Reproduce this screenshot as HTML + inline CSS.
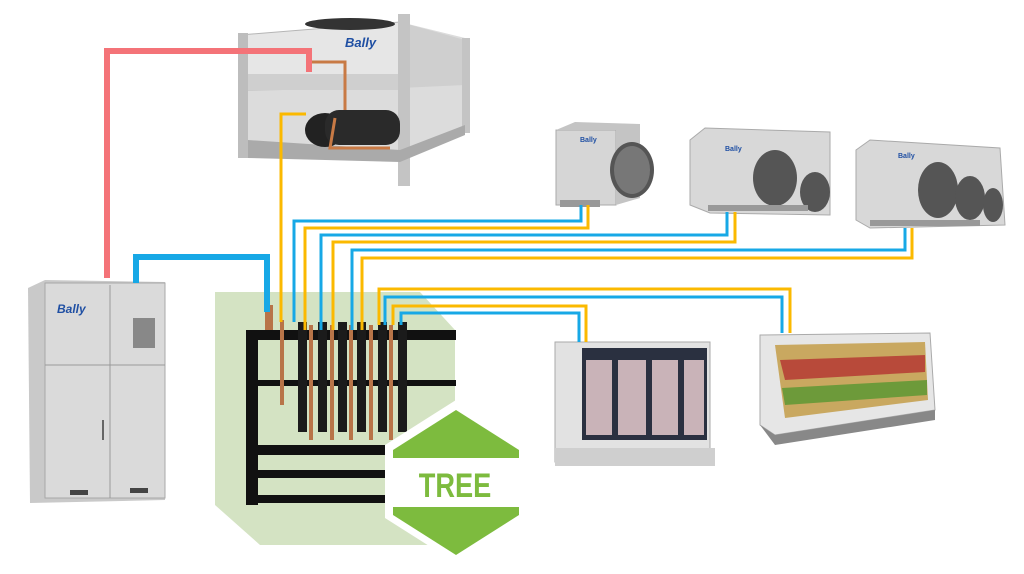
<!DOCTYPE html>
<html><head><meta charset="utf-8"><style>
html,body{margin:0;padding:0;background:#fff;}
body{width:1024px;height:569px;overflow:hidden;position:relative;font-family:"Liberation Sans",sans-serif;}
</style></head><body>
<svg width="1024" height="569" viewBox="0 0 1024 569" xmlns="http://www.w3.org/2000/svg">
<polygon points="215,292 420,292 455,330 455,545 260,545 215,505" fill="#d4e3c3"/>

<!-- condenser -->
<g>
<polygon points="240,35 400,22 465,38 465,130 400,150 240,155" fill="#dcdcdc"/>
<polygon points="240,35 400,22 400,88 240,90" fill="#e6e6e6" stroke="#b5b5b5"/>
<polygon points="400,22 465,40 465,85 400,88" fill="#cfcfcf"/>
<rect x="240" y="74" width="160" height="16" fill="#cfcfcf"/>
<rect x="238" y="33" width="10" height="125" fill="#bdbdbd"/>
<rect x="398" y="14" width="12" height="172" fill="#c4c4c4"/>
<rect x="462" y="38" width="8" height="95" fill="#c4c4c4"/>
<polygon points="248,140 400,150 465,125 465,135 400,162 248,158" fill="#aaa"/>
<ellipse cx="350" cy="24" rx="45" ry="6" fill="#333"/>
<ellipse cx="325" cy="130" rx="20" ry="17" fill="#222"/>
<rect x="325" y="110" width="75" height="35" rx="14" fill="#2a2a2a"/>
<path d="M310,62 H345 V110 M335,118 L330,148 H390" stroke="#c87a45" stroke-width="3" fill="none"/>
<text x="345" y="47" font-size="13" font-weight="bold" fill="#1f4fa3" font-style="italic">Bally</text>
</g>

<!-- cabinet -->
<g>
<polygon points="28,288 45,280 165,282 165,500 30,503" fill="#c9c9c9"/>
<rect x="45" y="283" width="120" height="215" fill="#dadada" stroke="#a8a8a8"/>
<line x1="110" y1="285" x2="110" y2="498" stroke="#999"/>
<line x1="45" y1="365" x2="165" y2="365" stroke="#999"/>
<rect x="133" y="318" width="22" height="30" fill="#888"/>
<rect x="70" y="490" width="18" height="5" fill="#444"/>
<rect x="130" y="488" width="18" height="5" fill="#444"/>
<line x1="103" y1="420" x2="103" y2="440" stroke="#666" stroke-width="2"/>
<text x="57" y="313" font-size="12" font-weight="bold" fill="#1f4fa3" font-style="italic">Bally</text>
</g>

<!-- evaporators -->
<g>
<rect x="556" y="130" width="60" height="75" fill="#d6d6d6" stroke="#aaa"/>
<polygon points="556,130 575,122 640,124 640,198 616,205 616,130" fill="#c4c4c4"/>
<ellipse cx="632" cy="170" rx="22" ry="28" fill="#555"/>
<ellipse cx="632" cy="170" rx="18" ry="24" fill="#777"/>
<rect x="560" y="200" width="40" height="7" fill="#999"/>
<text x="580" y="142" font-size="7" font-weight="bold" fill="#1f4fa3">Bally</text>
</g>
<g>
<polygon points="690,140 705,128 830,132 830,215 710,213 690,205" fill="#d8d8d8" stroke="#aaa"/>
<ellipse cx="775" cy="178" rx="22" ry="28" fill="#555"/>
<ellipse cx="815" cy="192" rx="15" ry="20" fill="#555"/>
<rect x="708" y="205" width="100" height="6" fill="#999"/>
<text x="725" y="151" font-size="7" font-weight="bold" fill="#1f4fa3">Bally</text>
</g>
<g>
<polygon points="856,150 870,140 1000,148 1005,225 870,228 856,220" fill="#d8d8d8" stroke="#aaa"/>
<ellipse cx="938" cy="190" rx="20" ry="28" fill="#555"/>
<ellipse cx="970" cy="198" rx="15" ry="22" fill="#555"/>
<ellipse cx="993" cy="205" rx="10" ry="17" fill="#555"/>
<rect x="870" y="220" width="110" height="6" fill="#999"/>
<text x="898" y="158" font-size="7" font-weight="bold" fill="#1f4fa3">Bally</text>
</g>

<!-- freezer display -->
<g>
<rect x="555" y="342" width="155" height="120" fill="#e2e2e2" stroke="#aaa"/>
<rect x="582" y="348" width="125" height="92" fill="#2a3040"/>
<g fill="#c9b3b8">
<rect x="586" y="360" width="26" height="75"/><rect x="618" y="360" width="28" height="75"/><rect x="652" y="360" width="26" height="75"/><rect x="684" y="360" width="20" height="75"/>
</g>
<rect x="555" y="448" width="160" height="18" fill="#cfcfcf"/>
</g>

<!-- deli case -->
<g>
<polygon points="760,335 930,333 935,410 775,435 760,425" fill="#e6e6e6" stroke="#aaa"/>
<polygon points="775,345 925,342 928,400 785,418" fill="#c9a860"/>
<polygon points="780,360 925,355 925,372 785,380" fill="#b84a3a"/>
<polygon points="782,388 927,380 927,395 785,405" fill="#6d9a3a"/>
<polygon points="760,425 775,435 935,410 935,420 775,445" fill="#888"/>
</g>

<!-- TREE manifold -->
<g>
<rect x="246" y="330" width="12" height="175" fill="#111"/>
<rect x="246" y="330" width="210" height="10" fill="#111"/>
<rect x="246" y="380" width="210" height="6" fill="#111"/>
<rect x="246" y="445" width="200" height="10" fill="#111"/>
<rect x="246" y="470" width="180" height="8" fill="#111"/>
<rect x="246" y="495" width="180" height="8" fill="#111"/>
<g fill="#1b1b1b">
<rect x="298" y="322" width="9" height="110"/><rect x="318" y="322" width="9" height="110"/><rect x="338" y="322" width="9" height="110"/><rect x="357" y="322" width="9" height="110"/><rect x="378" y="322" width="9" height="110"/><rect x="398" y="322" width="9" height="110"/>
</g>
<g fill="#b87448">
<rect x="309" y="325" width="4" height="115"/><rect x="330" y="325" width="4" height="115"/><rect x="349" y="325" width="4" height="115"/><rect x="369" y="325" width="4" height="115"/><rect x="389" y="325" width="4" height="115"/><rect x="280" y="320" width="4" height="85"/>
</g>
<rect x="265" y="305" width="8" height="25" fill="#b87448"/>
</g>

<!-- TREE badge -->
<polygon points="456,400 527,445 527,518 456,563 385,518 385,445" fill="#fff"/>
<polygon points="456,410 519,450 519,458 393,458 393,450" fill="#7dbb3e"/>
<polygon points="393,507 519,507 519,515 456,555 393,515" fill="#7dbb3e"/>
<text x="0" y="0" transform="translate(455,497) scale(0.8,1)" text-anchor="middle" font-size="34" font-weight="bold" fill="#7dbb3e">TREE</text>

<!-- connectors -->
<g fill="none" stroke-width="3" stroke-linejoin="miter">
<path d="M107,278 V51 H309 V72" stroke="#f47378" stroke-width="6"/>
<path d="M136,283 V257 H267 V312" stroke="#17a8e6" stroke-width="6"/>
<path d="M281,322 V114 H306" stroke="#fbb900"/>
<path d="M294,322 V221 H581 V205" stroke="#17a8e6"/>
<path d="M305,330 V228 H588 V205" stroke="#fbb900"/>
<path d="M321,330 V235 H727 V212" stroke="#17a8e6"/>
<path d="M333,330 V242 H735 V212" stroke="#fbb900"/>
<path d="M352,330 V250 H905 V228" stroke="#17a8e6"/>
<path d="M362,330 V258 H912 V228" stroke="#fbb900"/>
<path d="M379,325 V289 H790 V333" stroke="#fbb900"/>
<path d="M385,325 V297 H782 V333" stroke="#17a8e6"/>
<path d="M393,325 V306 H586 V342" stroke="#fbb900"/>
<path d="M401,325 V313 H579 V342" stroke="#17a8e6"/>
</g>
</svg>
</body></html>
